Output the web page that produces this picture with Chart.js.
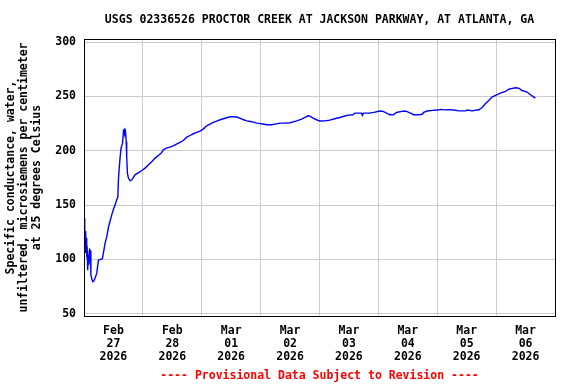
<!DOCTYPE html>
<html>
<head>
<meta charset="utf-8">
<script src="https://cdn.jsdelivr.net/npm/chart.js@4.4.1/dist/chart.umd.min.js"></script>
<style>
    html, body { margin: 0; padding: 0; background: #fff; }
    #wrap { width: 576px; height: 384px; }
</style>
</head>
<body>
<div id="wrap"><canvas id="chartCond" width="576" height="384"></canvas></div>
<script>
(function () {
    "use strict";

    // ============================
    // Data (hours since Feb 27 2026 00:00)
    // ============================
    const hours = [
        0.2, 0.3, 0.5, 0.7, 0.9, 1.1, 1.3, 1.5, 1.8, 2.0, 2.3, 2.6, 2.8, 3.2, 3.6, 4.0,
        4.5, 5.2, 5.9, 6.6, 7.5, 7.9, 8.6, 9.3, 10.0, 10.6, 11.3, 12.0, 12.7, 13.4, 13.8,
        14.0, 14.3, 14.7, 15.1, 15.7, 16.1, 16.4, 16.6, 16.9, 17.2, 17.4, 17.7, 18.1, 18.8,
        19.5, 20.2, 20.8, 22.2, 23.6, 24.9, 26.3, 27.7, 29.0, 30.4, 31.5, 32.3, 33.6, 35.0,
        36.4, 37.7, 39.1, 40.5, 41.9, 43.2, 44.6, 45.9, 47.3, 48.6, 50.0, 51.4, 52.7, 54.1,
        55.5, 56.8, 58.2, 59.6, 60.9, 62.3, 63.7, 65.0, 66.4, 67.8, 69.1, 70.5, 72.4, 74.5,
        76.5, 77.9, 79.9, 81.9, 84.0, 85.3, 86.7, 88.7, 90.1, 91.4, 92.1, 93.4, 94.8, 96.1,
        98.2, 100.2, 102.2, 104.3, 106.3, 107.7, 109.7, 110.4, 113.1, 113.5, 113.9, 116.5,
        118.6, 120.6, 122.0, 123.3, 124.7, 126.1, 127.4, 129.5, 130.8, 131.7, 133.1, 134.4,
        136.5, 137.8, 138.5, 139.9, 141.9, 144.2, 145.3, 147.3, 148.5, 150.8, 152.8, 155.5,
        156.3, 158.2, 160.9, 162.3, 163.6, 165.0, 166.3, 168.0, 169.7, 171.8, 173.2, 175.9,
        177.2, 178.6, 180.6, 182.0, 184.0
    ];

    const conductance = [
        138, 112, 126, 106, 120, 106, 108, 90, 104, 95, 109, 108, 86, 82, 79.5, 80,
        82.7, 87.3, 99.5, 99.8, 100.8, 105.7, 114.9, 121, 130.2, 134.8, 141, 146.2, 150.2, 155.4, 157.3,
        171.7, 182.4, 193.2, 202.4, 207, 218.6, 219.6, 215.6, 217.8, 208.5, 194.7, 179.4, 174.8, 172.3,
        173.2, 175.7, 177.8, 179.9, 181.8, 184, 187, 190.1, 193.2, 195.8, 197.8, 200.8, 202.4, 203.3,
        204.5, 206.1, 207.6, 209.4, 212.5, 214, 215.6, 216.8, 218, 219.9, 222.9, 224.5, 226, 227.3,
        228.5, 229.4, 230.3, 231.2, 231.2, 231, 229.7, 228.5, 227.5, 226.9, 226.3, 225.4, 224.8, 223.9,
        223.9, 224.5, 225.4, 225.4, 225.7, 226.6, 227.5, 229.1, 230.6, 232.1, 231.8, 230, 228.5, 227.3,
        227.5, 228.2, 229.4, 230.6, 231.9, 232.8, 233.1, 234.6, 234.6, 232.6, 234.6, 234.6,
        235.5, 236.5, 236.2, 234.6, 233.1, 233.1, 235.2, 236.2, 236.5, 236, 234.6, 233.1,
        233.1, 233.5, 235.2, 236.5, 237.1, 237.4, 238, 237.6, 237.8, 237.4, 236.7, 236.7,
        237.4, 236.7, 237.7, 239.8, 243.2, 246.2, 249.4, 251.2, 253, 254.5, 256.7, 257.9,
        257.6, 255.4, 254, 251.5, 248.4
    ];

    // tick labels sit at noon of each day, grid lines at midnight
    const dayHours = [12, 36, 60, 84, 108, 132, 156, 180];
    const dayLabels = [
        ["Feb", "27", "2026"], ["Feb", "28", "2026"], ["Mar", "01", "2026"], ["Mar", "02", "2026"],
        ["Mar", "03", "2026"], ["Mar", "04", "2026"], ["Mar", "05", "2026"], ["Mar", "06", "2026"]
    ];
    const yTicks = [50, 100, 150, 200, 250, 300];

    const titleText = "USGS 02336526 PROCTOR CREEK AT JACKSON PARKWAY, AT ATLANTA, GA";
    const footerText = "---- Provisional Data Subject to Revision ----";
    const yTitle = ["Specific conductance, water,", "unfiltered, microsiemens per centimeter", "at 25 degrees Celsius"];

    // ============================
    // Helpers
    // ============================
    const FONT = "'DejaVu Sans Mono', 'Liberation Mono', monospace";
    const font = { family: FONT, size: 11.5, weight: "bold", lineHeight: 1.11 };

    const points = hours.map((h, i) => ({ x: h, y: conductance[i] }));

    // frame, title and footer
    const framePlugin = {
        id: "usgsFrame",
        afterDraw(chart) {
            const { ctx, chartArea: a } = chart;
            const cx = (a.left + a.right) / 2;
            ctx.save();
            ctx.strokeStyle = "#000";
            ctx.lineWidth = 1;
            ctx.strokeRect(Math.round(a.left) + 0.5, Math.round(a.top) + 0.5,
                Math.round(a.right - a.left), Math.round(a.bottom - a.top));
            ctx.font = "bold 11.5px " + FONT;
            ctx.textAlign = "center";
            ctx.textBaseline = "middle";
            ctx.fillStyle = "#000";
            ctx.fillText(titleText, cx, 20);
            ctx.fillStyle = "#ff0000";
            ctx.fillText(footerText, cx, 376);
            ctx.restore();
        },
    };

    // ============================
    // Chart
    // ============================
    new Chart(document.getElementById("chartCond"), {
        type: "line",
        data: {
            datasets: [
                {
                    data: points,
                    borderColor: "#0000ff",
                    borderWidth: 1.4,
                    pointRadius: 0,
                    fill: false,
                    tension: 0,
                },
            ],
        },
        options: {
            responsive: false,
            animation: false,
            layout: { padding: { top: 39, right: 21, left: 0, bottom: 0 } },
            plugins: {
                legend: { display: false },
                tooltip: { enabled: false },
            },
            scales: {
                x: {
                    type: "linear",
                    min: 0,
                    max: 192,
                    afterFit: (s) => { s.height = 68; },
                    afterBuildTicks: (s) => {
                        const t = [];
                        for (let h = 0; h <= 192; h += 12) t.push({ value: h });
                        s.ticks = t;
                    },
                    grid: {
                        drawTicks: false,
                        color: (c) => (c.tick && c.tick.value % 24 === 0 ? "#cccccc" : "rgba(0,0,0,0)"),
                    },
                    border: { display: true, color: "#000" },
                    ticks: {
                        autoSkip: false,
                        maxRotation: 0,
                        padding: 9,
                        color: "#000",
                        font: font,
                        callback: (v) => {
                            const i = dayHours.indexOf(v);
                            return i >= 0 ? dayLabels[i] : "";
                        },
                    },
                },
                y: {
                    min: 47.9,
                    max: 302.8,
                    afterFit: (s) => { s.width = 84; },
                    afterBuildTicks: (s) => { s.ticks = yTicks.map((v) => ({ value: v })); },
                    grid: { drawTicks: false, color: "#cccccc" },
                    border: { display: true, color: "#000" },
                    ticks: { padding: 8, color: "#000", font: font },
                    title: {
                        display: true,
                        text: yTitle,
                        color: "#000",
                        font: font,
                        padding: { top: 5, bottom: 0 },
                    },
                },
            },
        },
        plugins: [framePlugin],
    });
})();
</script>
</body>
</html>
